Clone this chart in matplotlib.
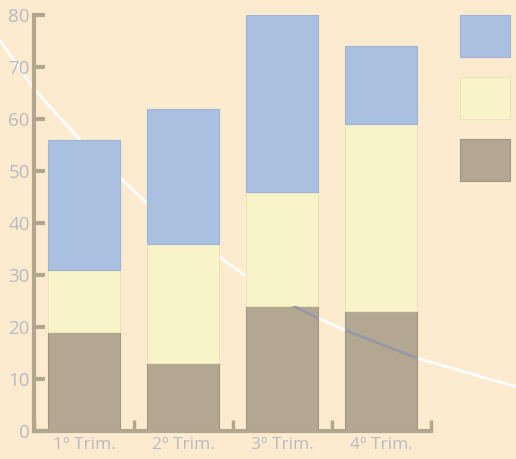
import matplotlib.pyplot as plt
from matplotlib.patches import Rectangle
import numpy as np

plt.rcParams['font.family'] = ['Open Sans', 'DejaVu Sans']

# datos de los trimestres
trimestres = ['1º Trim.', '2º Trim.', '3º Trim.', '4º Trim.']
serie_baja = [19, 13, 24, 23]
serie_media = [12, 23, 22, 36]
serie_alta = [25, 26, 34, 15]

# curva decorativa de fondo (en unidades de datos)
curva_x = [-0.85, -0.515, -0.04, 0.364, 0.636, 1.364, 1.636, 2.141, 2.364, 2.636, 3.364, 4.364]
curva_y = [75.2, 66.0, 56.0, 48.7, 43.8, 33.5, 29.8, 23.8, 21.7, 19.4, 14.0, 8.5]

fondo = '#FDEBD0'
c_baja = '#B3A792'
c_media = '#F8F3C8'
c_alta = '#AAC0E0'
c_eje = '#B2A68E'
c_texto = '#B9B9C2'

fig = plt.figure(figsize=(5.16, 4.59), dpi=100, facecolor=fondo)
ax = fig.add_axes([0.0659, 0.061, 0.7694, 0.9063])
ax.set_facecolor(fondo)

x = np.arange(len(trimestres))
ancho = 0.727
baja = np.array(serie_baja)
media = np.array(serie_media)
alta = np.array(serie_alta)

ax.plot(curva_x, curva_y, color='white', lw=2, zorder=1, clip_on=False)

b1 = ax.bar(x, baja, ancho, color=c_baja, edgecolor='#A09580', lw=0.8, zorder=2)
ax.bar(x, media, ancho, bottom=baja, color=c_media, edgecolor='#EDE4B8', lw=0.8, zorder=2)
ax.bar(x, alta, ancho, bottom=baja + media, color=c_alta, edgecolor='#9FB3D2', lw=0.8, zorder=2)

# la curva se ve oscura a traves de las barras marrones
for p in b1:
    l, = ax.plot(curva_x, curva_y, color='#9497A8', lw=1.8, zorder=3)
    l.set_clip_path(p)

ax.set_xlim(-0.505, 3.505)
ax.set_ylim(0, 80)

ax.spines['top'].set_visible(False)
ax.spines['right'].set_visible(False)
for s in ['left', 'bottom']:
    ax.spines[s].set_color(c_eje)
    ax.spines[s].set_linewidth(3)

ax.set_yticks(range(0, 81, 10))
ax.tick_params(axis='y', direction='in', length=8, width=3, color=c_eje,
               labelcolor=c_texto, labelsize=13.5, pad=3)
ax.set_xticks(x)
ax.set_xticklabels(trimestres)
ax.tick_params(axis='x', length=0, labelcolor=c_texto, labelsize=12.5, pad=4)
ax.set_xticks(np.arange(-0.5, 4, 1), minor=True)
ax.tick_params(axis='x', which='minor', direction='in', length=8, width=2.5, color=c_eje)

# cuadros de la leyenda sin texto
for y0, c, e in [(0.876, c_alta, '#9FB3D2'), (0.741, c_media, '#EDE4B8'), (0.606, c_baja, '#A09580')]:
    fig.patches.append(Rectangle((0.891, y0), 0.097, 0.0915, transform=fig.transFigure,
                                 facecolor=c, edgecolor=e, lw=0.8))

plt.savefig('out.png', dpi=100, facecolor=fondo)
